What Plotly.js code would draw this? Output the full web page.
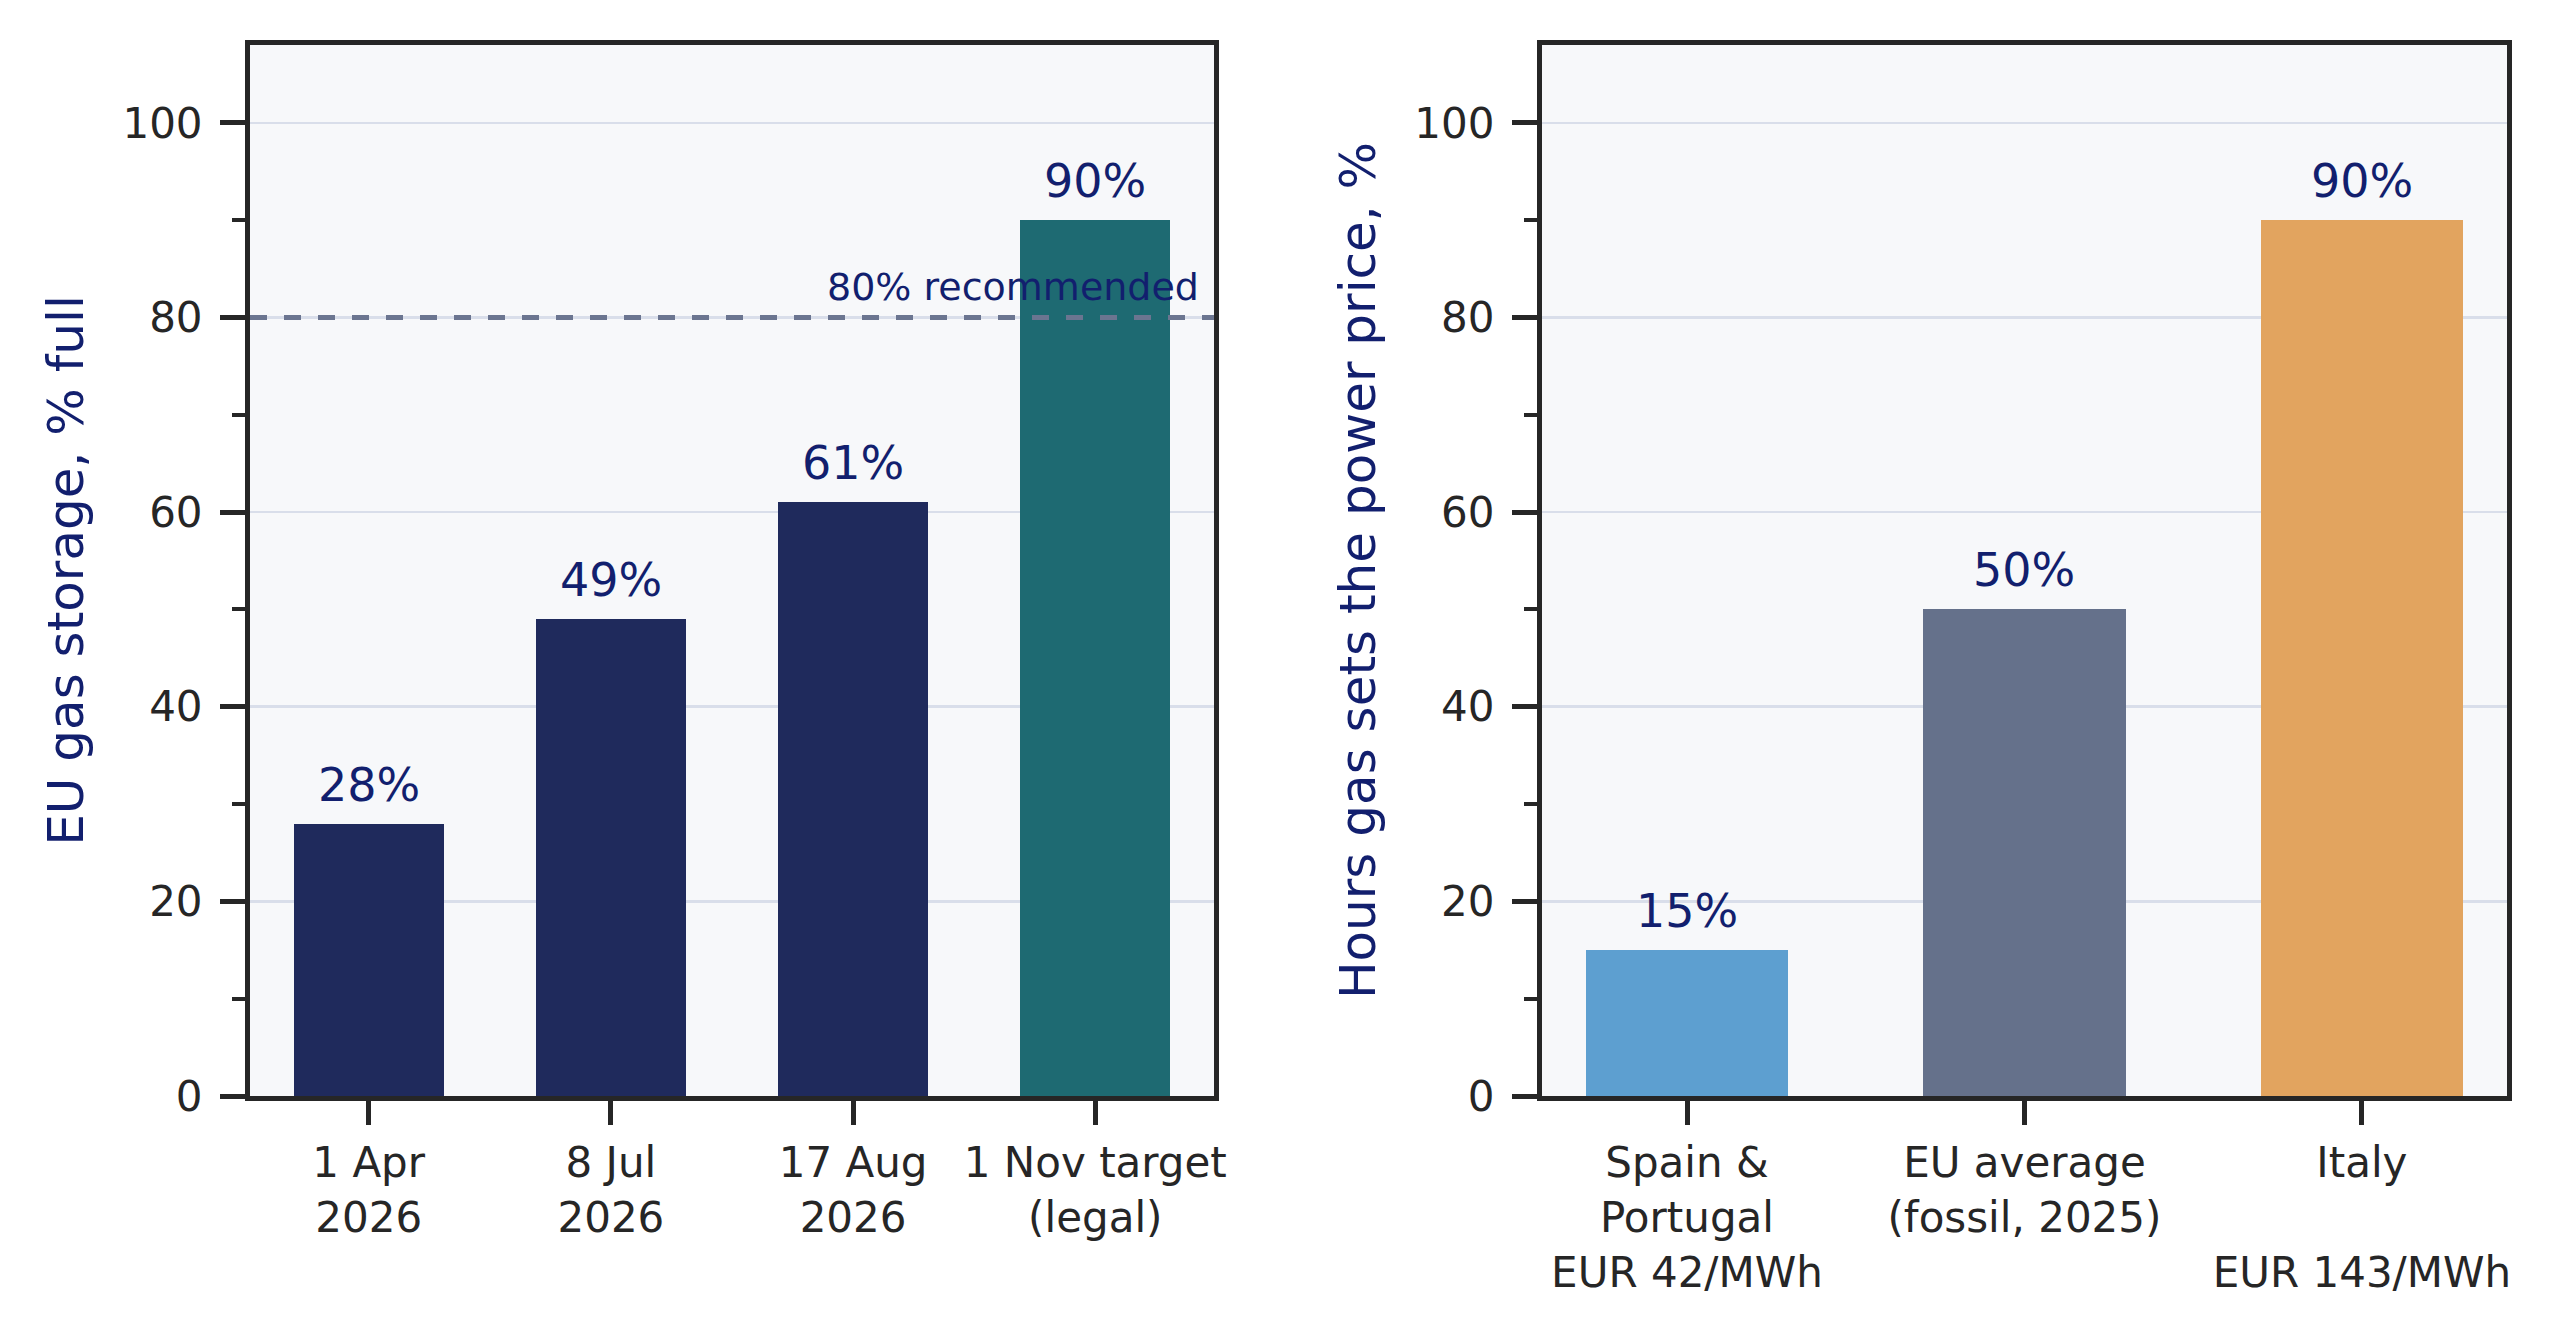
<!DOCTYPE html>
<html>
<head>
<meta charset="utf-8">
<script src="https://cdn.plot.ly/plotly-3.0.1.min.js"></script>
<style>
  html, body { margin: 0; padding: 0; background: #ffffff; }
  #chart { width: 2560px; height: 1327px; }
</style>
</head>
<body>
<div id="chart"></div>
<script>
  // ── data ────────────────────────────────────────────────
  const storageDates = ['1 Apr<br>2026', '8 Jul<br>2026', '17 Aug<br>2026', '1 Nov target<br>(legal)'];
  const storageFull = [28, 49, 61, 90];
  const storageColors = ['#1f2a5c', '#1f2a5c', '#1f2a5c', '#1e6a72'];
  const recommendedLevel = 80;
  const recommendedText = '80% recommended';

  const markets = ['Spain &<br>Portugal<br>EUR 42/MWh', 'EU average<br>(fossil, 2025)', 'Italy<br> <br>EUR 143/MWh'];
  const gasSetsPrice = [15, 50, 90];
  const marketColors = ['#5d9fd0', '#65718b', '#e2a45f'];

  // ── style ───────────────────────────────────────────────
  const FONT = 'DejaVu Sans, sans-serif';
  const INK = '#262626';
  const NAVY = '#121f6e';
  const GRID = '#d9deea';

  function yAxis(title, anchor) {
    return {
      anchor: anchor, range: [0, 108], dtick: 20, tick0: 0,
      showline: true, mirror: true, linecolor: INK, linewidth: 5,
      ticks: 'outside', ticklen: 25, tickwidth: 5, tickcolor: INK,
      ticklabelstandoff: 9,
      minor: { dtick: 10, ticks: 'outside', ticklen: 13, tickwidth: 4, tickcolor: INK, showgrid: false },
      showgrid: true, gridcolor: GRID, gridwidth: 2.5, zeroline: false,
      tickfont: { family: FONT, size: 42, color: INK },
      title: { text: title, standoff: 24, font: { family: FONT, size: 50, color: NAVY } },
    };
  }

  function xAxis(range, domain, anchor) {
    return {
      anchor: anchor, domain: domain, type: 'category', range: range,
      showline: true, mirror: true, linecolor: INK, linewidth: 5,
      ticks: 'outside', ticklen: 24, tickwidth: 5, tickcolor: INK,
      ticklabelstandoff: 2,
      showgrid: false, zeroline: false,
      tickfont: { family: FONT, size: 42, color: INK },
    };
  }

  function barLabels(xs, ys, xref, yref) {
    return xs.map((x, i) => ({
      x: x, y: ys[i], xref: xref, yref: yref,
      text: ys[i] + '%', showarrow: false,
      xanchor: 'center', yanchor: 'bottom', yshift: 10,
      font: { family: FONT, size: 46, color: NAVY },
    }));
  }

  const traces = [
    {
      type: 'bar', x: storageDates, y: storageFull, width: 0.62,
      marker: { color: storageColors, line: { width: 0 } },
      xaxis: 'x', yaxis: 'y', hoverinfo: 'skip',
    },
    {
      type: 'bar', x: markets, y: gasSetsPrice, width: 0.6,
      marker: { color: marketColors, line: { width: 0 } },
      xaxis: 'x2', yaxis: 'y2', hoverinfo: 'skip',
    },
  ];

  const layout = {
    width: 2560, height: 1327,
    margin: { l: 250, r: 53, t: 45, b: 231 },
    paper_bgcolor: '#ffffff',
    plot_bgcolor: '#f7f8fa',
    showlegend: false,
    bargap: 0,
    font: { family: FONT, color: INK },
    xaxis: xAxis([-0.49, 3.49], [0, 0.4271], 'y'),
    yaxis: yAxis('EU gas storage, % full', 'x'),
    xaxis2: xAxis([-0.43, 2.43], [0.5724, 1], 'y2'),
    yaxis2: yAxis('Hours gas sets the power price, %', 'x2'),
    shapes: [{
      type: 'line', xref: 'x domain', yref: 'y', x0: 0, x1: 1,
      y0: recommendedLevel, y1: recommendedLevel, layer: 'above',
      line: { color: '#6b7590', width: 5, dash: '17px,17px' },
    }],
    annotations: [
      {
        xref: 'x domain', yref: 'y', x: 0.9865, y: recommendedLevel,
        xanchor: 'right', yanchor: 'bottom', yshift: 6,
        text: recommendedText, showarrow: false,
        font: { family: FONT, size: 38, color: NAVY },
      },
      ...barLabels(storageDates, storageFull, 'x', 'y'),
      ...barLabels(markets, gasSetsPrice, 'x2', 'y2'),
    ],
  };

  Plotly.newPlot('chart', traces, layout, { displayModeBar: false, staticPlot: true });
</script>
</body>
</html>
